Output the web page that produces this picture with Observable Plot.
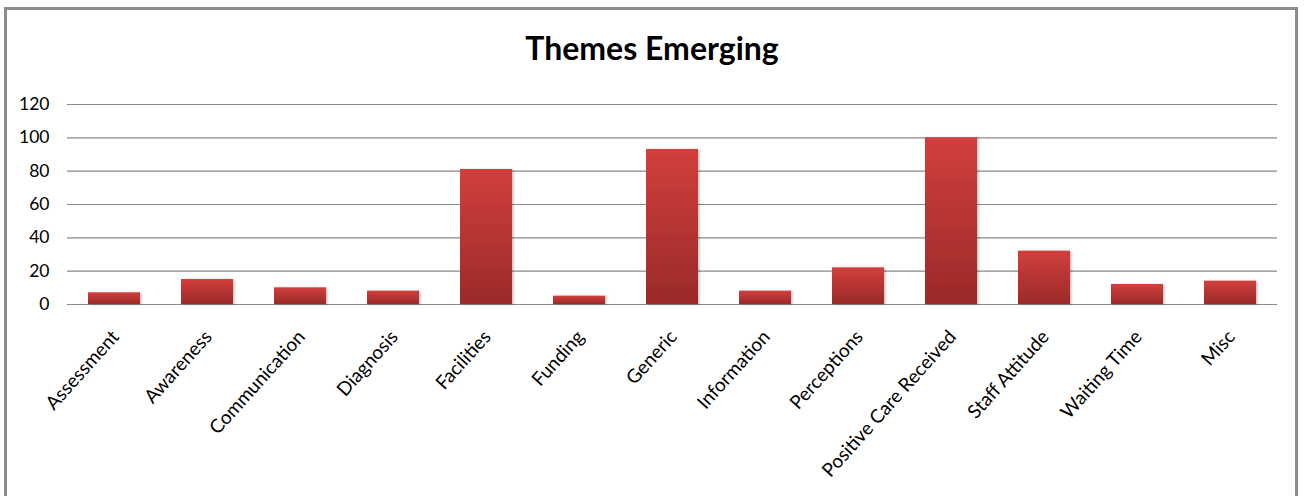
<!DOCTYPE html>
<html>
<head>
<meta charset="utf-8">
<script src="https://cdn.jsdelivr.net/npm/d3@7"></script>
<script src="https://cdn.jsdelivr.net/npm/@observablehq/plot@0.6"></script>
<style>
  html, body { margin: 0; padding: 0; background: #fff; }
  #wrap { position: relative; width: 1304px; height: 496px; overflow: hidden; font-family: Lato, "Open Sans", sans-serif; }
  #frame { position: absolute; left: 4px; top: 7px; width: 1294px; height: 500px; border: 3px solid #8c8c8c; border-bottom: none; box-sizing: border-box; }
  #title { position: absolute; left: 0; width: 1304px; top: 30px; text-align: center; font-size: 32px; font-weight: bold; color: #000; line-height: 36px; }
  #chart { position: absolute; left: 0; top: 90px; }
</style>
</head>
<body>
<div id="wrap">
  <div id="frame"></div>
  <div id="title">Themes Emerging</div>
  <div id="chart"></div>
</div>
<script>
const categories = ["Assessment", "Awareness", "Communication", "Diagnosis", "Facilities", "Funding", "Generic", "Information", "Perceptions", "Positive Care Received", "Staff Attitude", "Waiting Time", "Misc"];
const values = [7, 15, 10, 8, 81, 5, 93, 8, 22, 100, 32, 12, 14];
const yTicks = [0, 20, 40, 60, 80, 100, 120];

const data = categories.map((c, i) => ({theme: c, count: values[i]}));

const defs = () => {
  const d = d3.create("svg:defs");
  const g = d.append("linearGradient").attr("id", "barGrad").attr("x1", 0).attr("y1", 0).attr("x2", 0).attr("y2", 1);
  g.append("stop").attr("offset", "0%").attr("stop-color", "#d23f3c");
  g.append("stop").attr("offset", "100%").attr("stop-color", "#9a2a29");
  const f = d.append("filter").attr("id", "shadow").attr("x", "-20%").attr("y", "-20%").attr("width", "140%").attr("height", "140%");
  f.append("feDropShadow").attr("dx", 1.5).attr("dy", 0.5).attr("stdDeviation", 1.2).attr("flood-color", "#000").attr("flood-opacity", 0.25);
  return d.node();
};

const chart = Plot.plot({
  width: 1304,
  height: 406,
  marginTop: 14,
  marginBottom: 192,
  marginLeft: 67,
  marginRight: 27,
  style: {fontFamily: "Lato, 'Open Sans', sans-serif", fontSize: "19px", color: "#000", background: "transparent"},
  x: {domain: categories, paddingInner: 0.44, paddingOuter: 0.22, label: null},
  y: {domain: [0, 120], ticks: yTicks, label: null},
  marks: [
    defs,
    Plot.ruleY(yTicks, {stroke: "#8a8a8a", strokeWidth: 1.2}),
    Plot.barY(data, {x: "theme", y: "count", fill: "url(#barGrad)"}),
    Plot.axisY({ticks: yTicks, tickSize: 0, tickPadding: 18, line: true, stroke: "#8a8a8a", fill: "#000", fontSize: 17.5}),
    Plot.axisX({tickSize: 0, tickRotate: -48, tickPadding: 29, fontSize: 19, fill: "#000", dx: 1})
  ]
});
d3.select(chart).selectAll("g[aria-label='bar'] rect").attr("filter", "url(#shadow)");
document.getElementById("chart").appendChild(chart);
</script>
</body>
</html>
